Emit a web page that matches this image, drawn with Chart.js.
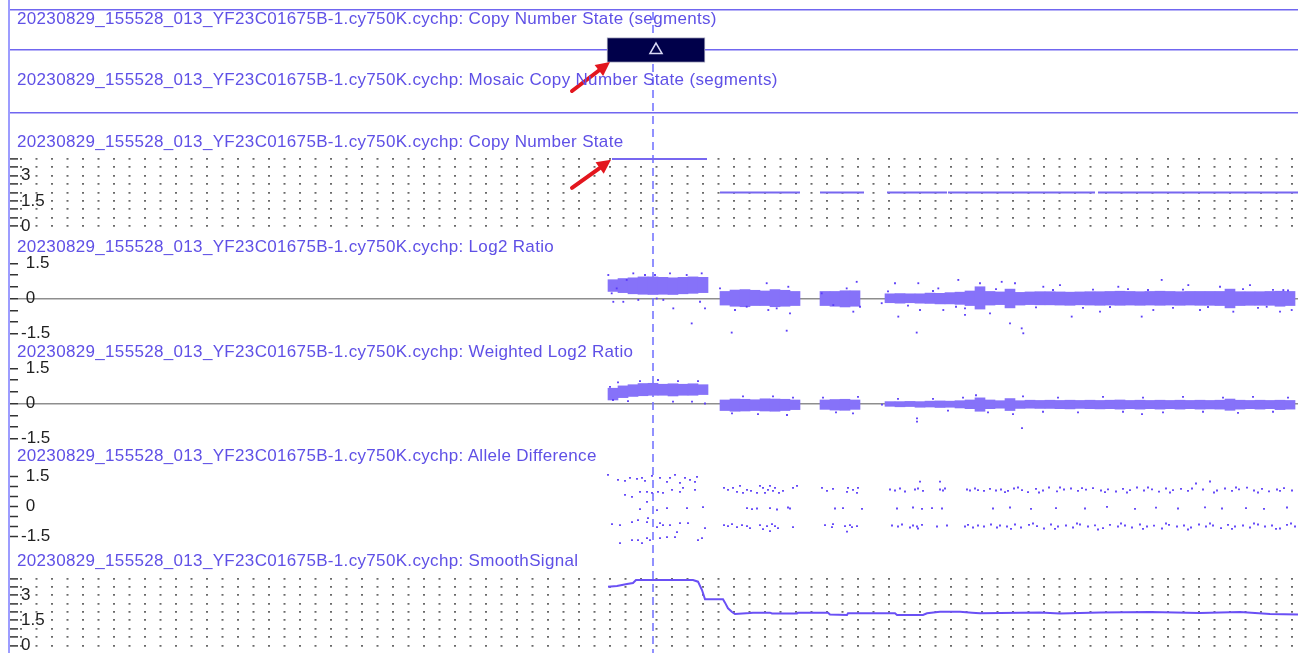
<!DOCTYPE html>
<html>
<head>
<meta charset="utf-8">
<script src="https://cdn.jsdelivr.net/npm/chart.js@4/dist/chart.umd.min.js"></script>
<style>
  body { margin: 0; background: #fff; }
  #wrap { position: relative; width: 1298px; height: 653px; overflow: hidden; background: #fff; }
  #tracks { position: absolute; left: 0; top: 0; }
  .frame { position: absolute; left: 8px; top: 0; width: 2px; height: 653px; background: #9d9dff; }
  .title { position: absolute; left: 17px; font-family: "Liberation Sans", Arial, sans-serif; font-size: 17px; line-height: 20px; letter-spacing: 0.33px; color: #5f50e6; white-space: nowrap; }
</style>
</head>
<body>
<div id="wrap">
  <canvas id="tracks" width="1298" height="653"></canvas>
  <div class="frame"></div>
</div>
<script>
// ---- data (x positions in Mb) ----
const sample = "20230829_155528_013_YF23C01675B-1.cy750K.cychp";
const trackNames = ["Copy Number State (segments)", "Mosaic Copy Number State (segments)", "Copy Number State",
  "Log2 Ratio", "Weighted Log2 Ratio", "Allele Difference", "SmoothSignal"];

const xRange = [0, 128];
const cursorPos = 63.5;

// CN segments track: one gain segment
const segGain = [58.9, 68.7];

// copy number state segments
const cnSegStart = [59.4, 70.2, 80.2, 86.9, 93.0, 108.0];
const cnSegEnd = [68.9, 78.2, 84.6, 92.9, 107.7, 128];
const cnSegValue = [4, 2, 2, 2, 2, 2];

const cnTicks = [0, 0.5, 1, 1.5, 2, 2.5, 3, 3.5, 4];
const cnTickLabels = [0, 1.5, 3];
const ratioTicks = [-1.5, -1, -0.5, 0, 0.5, 1, 1.5];
const ratioTickLabels = [-1.5, 0, 1.5];

// probe bins (1 Mb) used for the dense part of the log2 clouds
const probeBins = [59.5, 60.5, 61.5, 62.5, 63.5, 64.5, 65.5, 66.5, 67.5, 68.5,
  70.7, 71.7, 72.7, 73.7, 74.7, 75.7, 76.7, 77.7,
  80.7, 81.7, 82.7, 83.7,
  87.2, 88.2, 89.2, 90.2, 91.2, 92.2, 93.2, 94.2, 95.2, 96.2, 97.2, 98.2, 99.2, 100.2,
  101.2, 102.2, 103.2, 104.2, 105.2, 106.2, 107.2, 108.2, 109.2, 110.2, 111.2, 112.2, 113.2, 114.2,
  115.2, 116.2, 117.2, 118.2, 119.2, 120.2, 121.2, 122.2, 123.2, 124.2, 125.2, 126.2, 127.2];

const log2Band = [[0.30, 0.80], [0.25, 0.85], [0.20, 0.88], [0.18, 0.92], [0.17, 0.92], [0.18, 0.90], [0.17, 0.88], [0.20, 0.90], [0.22, 0.92], [0.25, 0.90],
  [-0.28, 0.30], [-0.33, 0.36], [-0.35, 0.38], [-0.30, 0.35], [-0.30, 0.32], [-0.35, 0.38], [-0.33, 0.35], [-0.30, 0.30],
  [-0.30, 0.30], [-0.33, 0.30], [-0.36, 0.33], [-0.33, 0.33],
  [-0.18, 0.20], [-0.20, 0.21], [-0.18, 0.20], [-0.20, 0.20], [-0.21, 0.23], [-0.23, 0.22], [-0.23, 0.25], [-0.25, 0.27], [-0.30, 0.32], [-0.45, 0.50],
  [-0.28, 0.30], [-0.26, 0.28], [-0.40, 0.40], [-0.28, 0.26], [-0.26, 0.28], [-0.27, 0.29], [-0.27, 0.29], [-0.28, 0.28], [-0.29, 0.27], [-0.27, 0.28],
  [-0.28, 0.29], [-0.29, 0.29], [-0.28, 0.30], [-0.29, 0.31], [-0.28, 0.30], [-0.29, 0.29], [-0.28, 0.30], [-0.29, 0.31], [-0.28, 0.30], [-0.29, 0.29],
  [-0.28, 0.30], [-0.29, 0.30], [-0.29, 0.30], [-0.30, 0.30], [-0.40, 0.40], [-0.30, 0.29], [-0.29, 0.29], [-0.29, 0.29], [-0.29, 0.30], [-0.33, 0.31], [-0.30, 0.30]];

const log2Points = [[59.03, 1.0], [59.37, 0.22], [59.87, 0.43], [59.53, -0.14], [60.53, -0.14], [61.53, 1.07], [62.7, 1.0], [63.7, 1.0], [63.87, 0.0],
  [65.53, -0.42], [67.37, -1.06], [68.37, 1.07], [68.2, -0.14], [68.7, -0.42], [64.53, -0.06], [62.03, -0.06], [66.87, 1.0], [65.2, 1.07], [60.87, 0.79],
  [71.37, -1.45], [76.87, -1.37], [70.2, 0.43], [71.7, -0.49], [74.87, 0.65], [75.03, -0.49], [77.03, 0.5], [77.2, -0.63], [72.87, -0.35], [75.87, -0.42],
  [83.87, 0.71], [83.53, -0.56], [80.37, 0.22], [81.53, -0.28], [82.87, 0.43], [84.2, -0.35],
  [86.37, -0.2], [87.7, 0.65], [88.03, -0.77], [89.87, -1.45], [90.03, 0.65], [90.2, -0.49], [92.03, 0.43], [92.53, -0.49], [94.03, 0.79], [94.7, -0.42],
  [96.2, 0.65], [98.37, 0.71], [99.7, 0.65], [99.2, -1.06], [100.37, -1.27], [100.53, -1.48], [97.2, -0.63], [94.7, -0.7], [105.37, -0.77], [102.53, 0.5],
  [104.2, 0.57], [108.2, -0.56], [110.03, 0.5], [112.37, -0.77], [114.37, 0.79], [113.53, -0.49], [117.03, 0.57], [118.2, -0.49], [120.2, 0.5],
  [121.53, -0.56], [123.2, 0.57], [124.87, -0.35], [126.53, 0.36], [127.37, -0.49], [126.2, -0.56],
  [87.0, 0.3], [89.0, -0.3], [91.5, 0.32], [93.8, -0.35], [97.8, 0.4], [101.8, -0.38], [103.5, 0.36], [106.5, -0.4], [107.5, 0.38], [109.2, -0.36],
  [111.0, 0.4], [113.0, 0.36], [115.5, -0.4], [116.5, 0.38], [119.0, -0.36], [122.5, 0.4], [124.0, -0.4], [125.5, 0.37], [127.0, 0.34]];

const wlog2Band = [[0.15, 0.65], [0.25, 0.75], [0.30, 0.80], [0.33, 0.85], [0.35, 0.86], [0.35, 0.82], [0.32, 0.84], [0.35, 0.82], [0.35, 0.84], [0.38, 0.80],
  [-0.30, 0.15], [-0.33, 0.19], [-0.32, 0.18], [-0.30, 0.16], [-0.32, 0.20], [-0.33, 0.19], [-0.30, 0.18], [-0.26, 0.15],
  [-0.25, 0.15], [-0.28, 0.17], [-0.29, 0.18], [-0.25, 0.15],
  [-0.12, 0.08], [-0.14, 0.08], [-0.13, 0.09], [-0.16, 0.08], [-0.15, 0.10], [-0.17, 0.11], [-0.16, 0.10], [-0.19, 0.12], [-0.22, 0.15], [-0.33, 0.24],
  [-0.22, 0.15], [-0.20, 0.12], [-0.30, 0.21], [-0.21, 0.12], [-0.20, 0.14], [-0.21, 0.13], [-0.21, 0.14], [-0.22, 0.13], [-0.23, 0.14], [-0.21, 0.13],
  [-0.22, 0.14], [-0.23, 0.13], [-0.22, 0.14], [-0.24, 0.15], [-0.22, 0.13], [-0.24, 0.14], [-0.22, 0.13], [-0.24, 0.14], [-0.22, 0.13], [-0.24, 0.14],
  [-0.22, 0.13], [-0.24, 0.14], [-0.23, 0.13], [-0.24, 0.14], [-0.29, 0.19], [-0.24, 0.14], [-0.22, 0.13], [-0.24, 0.14], [-0.22, 0.13], [-0.26, 0.14], [-0.24, 0.13]];

const wlog2Points = [[59.2, 0.71], [59.5, 0.15], [60.0, 0.9], [61.0, 0.1], [62.2, 0.95], [64.0, 1.0], [65.5, 0.08], [66.0, 0.95], [67.4, 0.08], [68.7, 0.0], [68.0, 0.95],
  [71.4, -0.42], [72.5, 0.3], [74.0, -0.45], [75.5, 0.3], [76.9, -0.49], [77.5, 0.25],
  [80.5, 0.25], [81.8, -0.38], [83.5, -0.42], [84.0, 0.28],
  [86.4, -0.05], [88.0, 0.2], [89.9, -0.63], [89.9, -0.77], [91.5, 0.2], [93.0, -0.3], [94.5, 0.25], [95.8, 0.35], [97.0, -0.38], [99.5, -0.45],
  [100.4, -1.05], [100.5, 0.3], [102.5, -0.35], [104.0, 0.25], [106.0, -0.38], [108.5, 0.28], [110.5, -0.35], [112.5, 0.25], [112.4, -0.45],
  [114.5, -0.38], [116.5, 0.28], [118.5, -0.35], [120.5, 0.25], [122.0, -0.4], [123.5, 0.28], [125.5, -0.35], [127.0, 0.25]];

const alleleDiff = [
  [59.0, 1.58], [60.0, 1.33], [60.7, 1.28], [61.2, 1.43], [61.9, 1.38], [62.4, 1.43], [62.7, 1.28], [63.4, 1.53], [64.2, 1.43], [64.9, 1.23], [65.2, 1.43],
  [65.7, 1.58], [66.2, 1.18], [66.7, 1.43], [67.2, 1.33], [67.7, 1.23], [67.9, 1.48],
  [60.7, 0.58], [61.4, 0.48], [62.2, 0.73], [62.9, 0.73], [62.9, 0.23], [63.4, 0.68], [64.0, 0.73], [64.5, 0.68], [65.4, 0.83], [66.2, 0.73], [66.5, 0.93], [67.7, 0.83],
  [62.2, -0.13], [63.9, -0.18], [64.9, -0.08], [66.9, -0.08], [68.5, -0.03],
  [59.4, -0.88], [60.2, -0.93], [61.4, -0.78], [62.0, -0.68], [62.9, -0.78], [63.0, -0.58], [63.9, -1.03], [64.2, -0.83], [64.5, -0.93], [65.2, -0.93],
  [66.2, -0.83], [67.0, -0.83], [68.7, -1.08],
  [60.2, -1.83], [61.4, -1.68], [62.0, -1.68], [62.4, -1.83], [62.9, -1.58], [63.2, -1.68], [64.2, -1.58], [64.9, -1.53], [65.7, -1.53], [65.9, -1.28],
  [68.0, -1.68], [68.4, -1.58],
  [70.6, 0.93], [71.0, 0.83], [71.5, 0.93], [71.9, 0.73], [72.2, 1.03], [72.5, 0.68], [72.9, 0.83], [73.3, 0.78], [73.9, 0.68], [74.2, 1.03], [74.5, 0.93],
  [74.7, 0.68], [75.0, 0.83], [75.2, 1.03], [75.5, 0.78], [75.7, 0.93], [76.1, 0.68], [76.5, 0.78], [77.5, 0.93], [77.9, 1.03],
  [72.9, -0.08], [73.4, -0.13], [73.9, -0.1], [75.2, -0.08], [75.9, -0.15], [77.0, -0.05], [77.2, -0.1],
  [70.6, -0.93], [71.0, -0.98], [71.4, -0.88], [71.9, -1.03], [72.4, -0.93], [72.9, -0.98], [73.2, -1.08], [74.2, -0.93], [74.5, -1.13], [74.9, -0.98],
  [75.2, -1.23], [75.4, -0.88], [75.7, -0.98], [76.0, -1.08], [77.5, -1.03],
  [80.4, 0.93], [80.9, 0.78], [81.5, 0.88], [82.9, 0.73], [83.0, 0.93], [83.5, 0.83], [83.9, 0.68], [84.0, 0.93],
  [81.7, -0.1], [82.5, -0.08], [84.4, -0.12],
  [80.7, -0.93], [81.4, -1.03], [81.5, -0.88], [82.7, -0.98], [82.9, -1.26], [83.2, -0.93], [83.4, -1.03], [83.9, -0.98],
  [87.2, 0.85], [87.7, 0.8], [88.2, 0.9], [88.7, 0.75], [89.7, 0.85], [90.0, 0.9], [90.2, 1.24], [90.5, 0.78], [92.2, 0.85], [92.2, 1.24], [92.5, 0.8],
  [92.7, 0.9], [94.9, 0.85], [95.2, 0.8], [95.7, 0.9], [96.0, 0.82], [96.6, 0.78], [97.2, 0.88], [97.8, 0.8],
  [87.9, -0.1], [89.5, -0.05], [90.4, -0.12], [91.4, -0.08], [92.4, -0.1], [97.5, -0.1],
  [87.4, -0.95], [88.0, -1.0], [88.4, -0.9], [89.2, -1.05], [89.5, -0.95], [89.9, -1.0], [90.0, -1.1], [90.4, -0.92], [91.9, -1.0], [92.9, -0.95],
  [94.7, -1.0], [95.0, -0.92], [95.5, -1.05], [96.0, -0.95], [96.6, -1.0], [97.3, -0.9], [97.9, -1.05],
  [98.3, 0.85], [99.0, 0.78], [99.6, 0.9], [100.4, 0.82], [101.0, 0.72], [101.8, 0.88], [102.5, 0.8], [103.1, 0.95], [103.9, 0.76], [104.6, 0.85],
  [105.3, 0.9], [106.0, 0.78], [106.8, 0.84], [107.5, 0.92], [108.3, 0.8], [109.0, 0.86], [109.8, 0.75], [110.5, 0.88], [111.2, 0.82], [111.9, 0.95],
  [112.6, 0.8], [113.4, 0.86], [114.1, 0.74], [114.8, 0.9], [115.5, 0.82], [116.3, 0.88], [117.0, 0.78], [117.8, 1.15], [118.5, 0.85], [119.2, 1.25],
  [119.9, 0.8], [120.7, 0.9], [121.4, 0.78], [122.1, 0.86], [122.9, 0.94], [123.6, 0.8], [124.4, 0.88], [125.1, 0.76], [125.9, 0.85], [126.6, 0.92],
  [127.4, 0.8], [98.7, 0.72], [100.0, 0.95], [102.1, 0.7], [104.2, 0.95], [106.4, 0.92], [108.7, 0.72], [110.9, 0.7], [113.0, 0.95], [115.2, 0.7],
  [117.4, 0.9], [119.6, 0.7], [121.8, 0.95], [124.0, 0.7], [126.2, 0.78],
  [99.2, -0.05], [101.3, -0.12], [103.8, -0.08], [106.7, -0.1], [108.9, -0.02], [111.7, -0.12], [113.8, -0.06], [116.0, -0.1], [118.7, -0.04],
  [120.4, -0.1], [122.8, -0.08], [124.6, -0.12], [126.9, -0.05],
  [98.2, -0.95], [98.9, -1.0], [99.7, -0.9], [100.3, -1.05], [101.1, -0.92], [101.9, -0.98], [102.6, -1.1], [103.3, -0.9], [104.0, -1.0], [104.8, -0.95],
  [105.5, -1.05], [106.2, -0.9], [107.0, -1.0], [107.7, -0.94], [108.5, -1.08], [109.2, -0.92], [110.0, -1.0], [110.7, -0.95], [111.4, -1.05], [112.2, -0.9],
  [112.9, -1.0], [113.6, -0.96], [114.4, -1.1], [115.1, -0.92], [115.9, -1.0], [116.6, -0.95], [117.3, -1.05], [118.1, -0.9], [118.8, -1.0], [119.5, -0.95],
  [120.3, -1.08], [121.0, -0.92], [121.7, -1.0], [122.5, -0.95], [123.2, -1.05], [124.0, -0.9], [124.7, -1.0], [125.4, -0.95], [126.2, -1.1], [126.9, -0.92],
  [127.7, -1.0], [99.3, -1.12], [101.5, -0.85], [103.7, -1.12], [105.9, -0.85], [108.0, -1.15], [110.3, -0.85], [112.5, -1.12], [114.8, -0.85],
  [117.0, -1.15], [119.2, -0.85], [121.4, -1.12], [123.6, -0.85], [125.8, -1.12], [127.3, -0.85]];

const smoothX = [59.0, 59.9, 60.4, 60.9, 61.5, 61.8, 67.5, 68.0, 68.4, 68.7, 70.5, 70.7, 71.0, 71.4, 71.7, 73.2, 73.5, 75.2, 75.4, 77.9, 78.0,
  81.0, 81.2, 82.9, 83.0, 87.7, 87.9, 90.5, 90.9, 92.2, 94.2, 95.4, 96.2, 98.2, 102.2, 104.2, 108.2, 113.2, 118.2, 122.2, 125.2, 128];
const smoothY = [3.51, 3.55, 3.61, 3.67, 3.73, 3.91, 3.91, 3.81, 3.31, 2.76, 2.76, 2.56, 2.22, 2.0, 1.88, 1.94, 1.96, 1.96, 1.91, 1.91, 1.96,
  1.96, 1.85, 1.82, 1.92, 1.92, 1.82, 1.82, 1.92, 2.02, 2.02, 1.96, 1.92, 1.94, 1.97, 1.91, 1.97, 2.0, 1.94, 2.0, 1.88, 1.85];

// ---- styling ----
const font = { family: "'Liberation Sans', Arial, sans-serif", size: 17 };
const segLine = '#7066f0';
const dot = '#5a3cf8';
const band = '#8672f9';

// each track: pixel band and two reference values to place the axis
const layout = [
  { id: 'ySeg1', top: 0, h: 64, v1: 1, p1: 10, v2: 0, p2: 50, title: 18 },
  { id: 'ySeg2', top: 64, h: 64, v1: 1, p1: 73, v2: 0, p2: 113, title: 79 },
  { id: 'yCN', top: 128, h: 112, v1: 4, p1: 159, v2: 0, p2: 226, title: 141 },
  { id: 'yLog2', top: 240, h: 105, v1: 1.5, p1: 263.25, v2: 0, p2: 298.5, title: 246 },
  { id: 'yWLog2', top: 345, h: 104, v1: 1.5, p1: 368.25, v2: 0, p2: 403.5, title: 351 },
  { id: 'yAllele', top: 449, h: 105, v1: 1.5, p1: 476.5, v2: 0, p2: 506.5, title: 455 },
  { id: 'ySmooth', top: 554, h: 99, v1: 4, p1: 578.5, v2: 0, p2: 645.5, title: 560 }
];

const wrap = document.getElementById('wrap');
layout.forEach((t, i) => {
  const d = document.createElement('div');
  d.className = 'title';
  d.style.top = (t.title - 9) + 'px';
  d.textContent = sample + ': ' + trackNames[i];
  wrap.appendChild(d);
});

function range(t) {
  const k = (t.p2 - t.p1) / (t.v1 - t.v2);
  return { min: t.v1 - (t.top + t.h - t.p1) / k, max: t.v1 + (t.p1 - t.top) / k };
}

const zeroOnly = c => (c.tick && c.tick.value === 0) ? '#8e8e8e' : 'rgba(0,0,0,0)';
const ratioLabel = v => ratioTickLabels.includes(v) ? (v < 0 ? String(v) : ' ' + v) : '';
const cnLabel = v => cnTickLabels.includes(v) ? String(v) : '';

function yScale(t, i, ticks, label, grid, dash) {
  const r = range(t);
  return {
    type: 'linear', position: 'left', stack: 'tracks', stackWeight: t.h, weight: layout.length - i,
    min: r.min, max: r.max, offset: false, beginAtZero: false,
    afterBuildTicks: s => { s.ticks = ticks.map(v => ({ value: v })); },
    afterFit: s => { s.paddingTop = 0; s.paddingBottom = 0; },
    ticks: { mirror: true, padding: 3, autoSkip: false, font, color: '#202020', callback: label },
    grid: Object.assign({ offset: false, tickLength: 8, tickWidth: 1.5, tickColor: '#333' }, grid),
    border: Object.assign({ display: false }, dash || {})
  };
}

const dotGrid = { color: '#6a6a6a', lineWidth: 1.8 };
const dotDash = { dash: [2, 13.5], dashOffset: 13.5 };
const segGrid = { color: segLine, lineWidth: 1.5, tickColor: segLine };

const scales = {
  x: { type: 'linear', min: xRange[0], max: xRange[1], offset: false, grid: { offset: false }, display: false },
  ySeg1: yScale(layout[0], 0, [0, 1], () => '', segGrid),
  ySeg2: yScale(layout[1], 1, [0], () => '', segGrid),
  yCN: yScale(layout[2], 2, cnTicks, cnLabel, dotGrid, dotDash),
  yLog2: yScale(layout[3], 3, ratioTicks, ratioLabel, { color: zeroOnly, lineWidth: 1.5 }),
  yWLog2: yScale(layout[4], 4, ratioTicks, ratioLabel, { color: zeroOnly, lineWidth: 1.5 }),
  yAllele: yScale(layout[5], 5, ratioTicks, ratioLabel, { drawOnChartArea: false }),
  ySmooth: yScale(layout[6], 6, cnTicks, cnLabel, dotGrid, dotDash)
};

const pts = arr => arr.map(([x, y]) => ({ x, y }));
const bars = (b, axis) => ({
  type: 'bar', yAxisID: axis, data: probeBins.map((x, i) => ({ x, y: b[i] })),
  backgroundColor: band, barThickness: 10, grouped: false, clip: false, order: 3
});
const scatter = (arr, axis) => ({
  type: 'scatter', yAxisID: axis, data: pts(arr), pointStyle: 'rect', pointRadius: 1.3,
  pointBorderWidth: 0, pointBackgroundColor: dot, clip: false, order: 2
});

const cnLine = cnSegStart.flatMap((s, i) => [
  { x: s, y: cnSegValue[i] }, { x: cnSegEnd[i], y: cnSegValue[i] }, { x: cnSegEnd[i], y: null }
]);

const datasets = [
  { type: 'bar', indexAxis: 'y', xAxisID: 'x', yAxisID: 'ySeg1', data: [{ x: segGain, y: 0 }],
    backgroundColor: '#00004a', borderColor: '#b0b0c4', borderWidth: 1, borderSkipped: false,
    barThickness: 25, grouped: false, clip: false, order: 1 },
  { type: 'scatter', yAxisID: 'ySeg1', data: [{ x: (segGain[0] + segGain[1]) / 2, y: 0 }],
    pointStyle: 'triangle', pointRadius: 7, pointBackgroundColor: '#00004a', pointBorderColor: '#d8d8f4',
    pointBorderWidth: 1.5, clip: false, order: 0 },
  { type: 'line', yAxisID: 'yCN', data: cnLine, borderColor: '#7767f0', borderWidth: 2, pointRadius: 0, clip: false, order: 1 },
  bars(log2Band, 'yLog2'), scatter(log2Points, 'yLog2'),
  bars(wlog2Band, 'yWLog2'), scatter(wlog2Points, 'yWLog2'),
  scatter(alleleDiff, 'yAllele'),
  { type: 'line', yAxisID: 'ySmooth', data: smoothX.map((x, i) => ({ x, y: smoothY[i] })),
    borderColor: '#6a50f5', borderWidth: 2, pointRadius: 0, clip: false, order: 1 }
];

// dashed position cursor through all tracks
const cursor = {
  id: 'cursor',
  beforeDatasetsDraw(chart) {
    const { ctx, scales: { x } } = chart;
    const px = x.getPixelForValue(cursorPos);
    ctx.save();
    ctx.strokeStyle = 'rgba(118, 118, 255, 0.8)';
    ctx.lineWidth = 2;
    ctx.setLineDash([8, 5]);
    ctx.beginPath();
    ctx.moveTo(px, 12);
    ctx.lineTo(px, chart.height);
    ctx.stroke();
    ctx.restore();
  }
};

// red arrows pointing at the gain
const arrowTips = [
  { x: 59.2, axis: 'ySeg1', y: -0.3, dx: -38, dy: 29 },
  { x: 59.3, axis: 'yCN', y: 3.95, dx: -39, dy: 28 }
];
const arrows = {
  id: 'arrows',
  afterDatasetsDraw(chart) {
    const { ctx, scales } = chart;
    ctx.save();
    ctx.strokeStyle = ctx.fillStyle = '#e3161e';
    ctx.lineWidth = 4;
    ctx.lineCap = 'round';
    arrowTips.forEach(a => {
      const x1 = scales.x.getPixelForValue(a.x), y1 = scales[a.axis].getPixelForValue(a.y);
      const x0 = x1 + a.dx, y0 = y1 + a.dy;
      const ang = Math.atan2(y1 - y0, x1 - x0), head = 14, hw = 7;
      const c = Math.cos(ang), s = Math.sin(ang);
      ctx.beginPath();
      ctx.moveTo(x0, y0);
      ctx.lineTo(x1 - head * c, y1 - head * s);
      ctx.stroke();
      ctx.beginPath();
      ctx.moveTo(x1, y1);
      ctx.lineTo(x1 - head * c + hw * s, y1 - head * s - hw * c);
      ctx.lineTo(x1 - head * c - hw * s, y1 - head * s + hw * c);
      ctx.closePath();
      ctx.fill();
    });
    ctx.restore();
  }
};

new Chart(document.getElementById('tracks'), {
  type: 'line',
  data: { datasets },
  options: {
    responsive: false,
    animation: false,
    events: [],
    layout: { autoPadding: false, padding: { left: 4, right: 0, top: 0, bottom: 0 } },
    plugins: { legend: { display: false }, tooltip: { enabled: false } },
    scales
  },
  plugins: [cursor, arrows]
});
</script>
</body>
</html>
